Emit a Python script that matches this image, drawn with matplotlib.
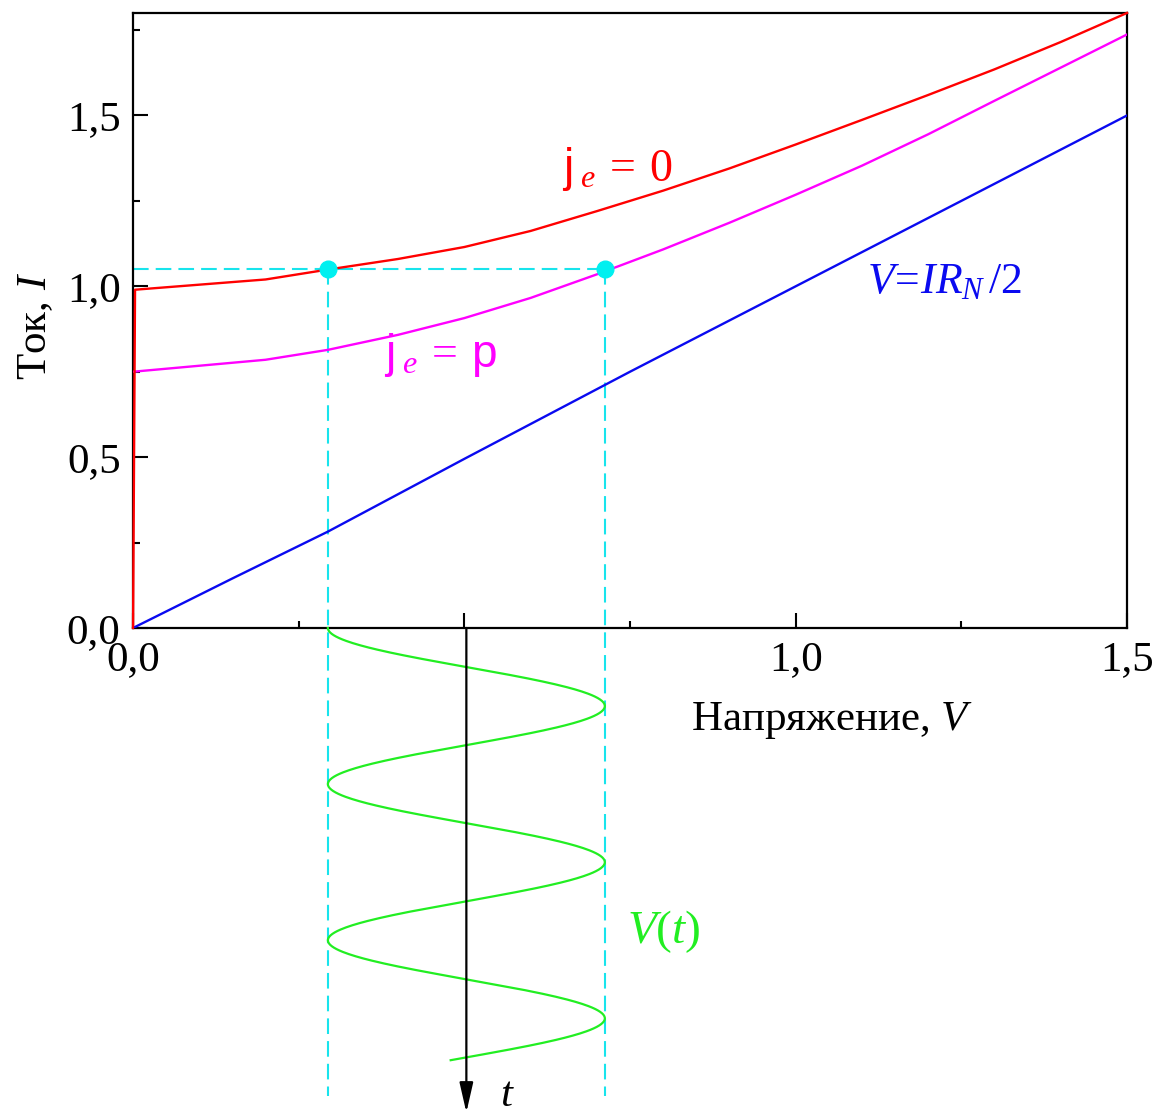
import numpy as np
import matplotlib
matplotlib.use("Agg")
import matplotlib.pyplot as plt

plt.rcParams['font.family'] = 'Liberation Serif'
plt.rcParams['mathtext.fontset'] = 'custom'
plt.rcParams['mathtext.rm'] = 'Liberation Serif'
plt.rcParams['mathtext.it'] = 'Liberation Serif:italic'
plt.rcParams['mathtext.sf'] = 'Liberation Sans'

# I-V curves
v_red = [0.0, 0.003, 0.2, 0.294, 0.4, 0.5, 0.6, 0.7, 0.8, 0.9, 1.0, 1.1, 1.2, 1.3, 1.4, 1.5]
i_red = [0.0, 0.99, 1.02, 1.049, 1.08, 1.115, 1.162, 1.22, 1.28, 1.345, 1.415, 1.487, 1.56, 1.635, 1.715, 1.80]

v_mag = [0.0, 0.2, 0.294, 0.4, 0.5, 0.6, 0.7, 0.8, 0.9, 1.0, 1.1, 1.2, 1.3, 1.4, 1.5]
i_mag = [0.75, 0.785, 0.814, 0.858, 0.907, 0.966, 1.035, 1.108, 1.186, 1.268, 1.353, 1.445, 1.543, 1.64, 1.737]

v_blue = [0.0, 0.15, 0.294, 0.5, 0.75, 1.0, 1.25, 1.5]
i_blue = [0.0, 0.145, 0.282, 0.495, 0.75, 1.0, 1.25, 1.5]

# bias current and the two operating points
i_bias = 1.05
v_low, v_high = 0.294, 0.712

# applied voltage V(t), time runs downward below the axis
t_period = 0.457
t_end = 1.265
t_arrow = 1.418
t_dash = 1.37

xticks = [0.0, 0.5, 1.0, 1.5]
xticklabels = ["0,0", "", "1,0", "1,5"]
yticks = [0.0, 0.5, 1.0, 1.5]
yticklabels = ["0,0", "0,5", "1,0", "1,5"]

RED = '#FF0000'
MAG = '#FF00FF'
BLUE = '#0A0AF0'
CYAN = '#18E4EC'
GREEN = '#22EE22'

fig = plt.figure(figsize=(11.62, 11.17), dpi=100)
ax = fig.add_axes([0.1145, 0.4378, 0.8554, 0.5506])

ax.plot(v_red, i_red, color=RED, lw=1.7, zorder=4, clip_on=False)
ax.plot(v_mag, i_mag, color=MAG, lw=1.7, zorder=3)
ax.plot(v_blue, i_blue, color=BLUE, lw=1.7, zorder=3)

dash = (7.5, 3.4)
ax.plot([0, v_high], [i_bias, i_bias], color=CYAN, lw=1.5, dashes=dash, zorder=2)
for v in (v_low, v_high):
    ax.plot([v, v], [i_bias, -t_dash], color=CYAN, lw=1.5, dashes=dash,
            zorder=2, clip_on=False)
ax.plot([v_low, v_high], [i_bias, i_bias], 'o', color='#00F0F0', ms=12,
        zorder=5)

v_dc = (v_low + v_high) / 2
v_ac = (v_high - v_low) / 2
t = np.linspace(0, t_end, 600)
ax.plot(v_dc - v_ac * np.cos(2 * np.pi * t / t_period), -t, color=GREEN,
        lw=1.6, clip_on=False, zorder=3)

ax.annotate('', xy=(v_dc, -t_arrow), xytext=(v_dc, 0),
            arrowprops=dict(arrowstyle='-|>,head_length=1.4,head_width=0.32',
                            mutation_scale=13, color='black', lw=1.6,
                            shrinkA=0, shrinkB=0),
            annotation_clip=False)

ax.set_xlim(0, 1.5)
ax.set_ylim(0, 1.8)
ax.set_xticks(xticks)
ax.set_xticklabels(xticklabels)
ax.set_yticks(yticks)
ax.set_yticklabels(yticklabels)
ax.set_xticks(np.arange(0, 1.51, 0.25), minor=True)
ax.set_yticks(np.arange(0, 1.76, 0.25), minor=True)
ax.tick_params(which='both', direction='in', width=1.5, labelsize=31)
ax.tick_params(which='major', length=11)
ax.tick_params(which='minor', length=5)
ax.tick_params(axis='x', pad=9)
ax.tick_params(axis='y', pad=9)
for s in ax.spines.values():
    s.set_linewidth(1.6)

ax.text(-0.098, 0.491, r"Ток, $I$", transform=ax.transAxes, rotation=90,
        ha='center', va='center', fontsize=31)
ax.text(0.703, -0.150, r"Напряжение, $V$", transform=ax.transAxes,
        ha='center', va='center', fontsize=31)

ax.text(0.647, 1.307, r"$\mathsf{j}_{\;e}\:=\:0$", color=RED, fontsize=33,
        ha='left', va='baseline')
ax.text(0.378, 0.765, r"$\mathsf{j}_{\;e}\:=\:\mathsf{p}$", color=MAG,
        fontsize=33, ha='left', va='baseline')
ax.text(1.107, 0.979, r"$V\!=\!IR_{N}\,\mathit{/2}$", color=BLUE,
        fontsize=31.5, ha='left', va='baseline')
ax.text(0.745, -0.923, r"$\mathit{V(t)}$", color=GREEN, fontsize=34,
        ha='left', va='baseline', clip_on=False)
ax.text(0.554, -1.40, r"$t$", color='black', fontsize=31,
        ha='left', va='baseline', clip_on=False)

fig.savefig("out.png", dpi=100)
